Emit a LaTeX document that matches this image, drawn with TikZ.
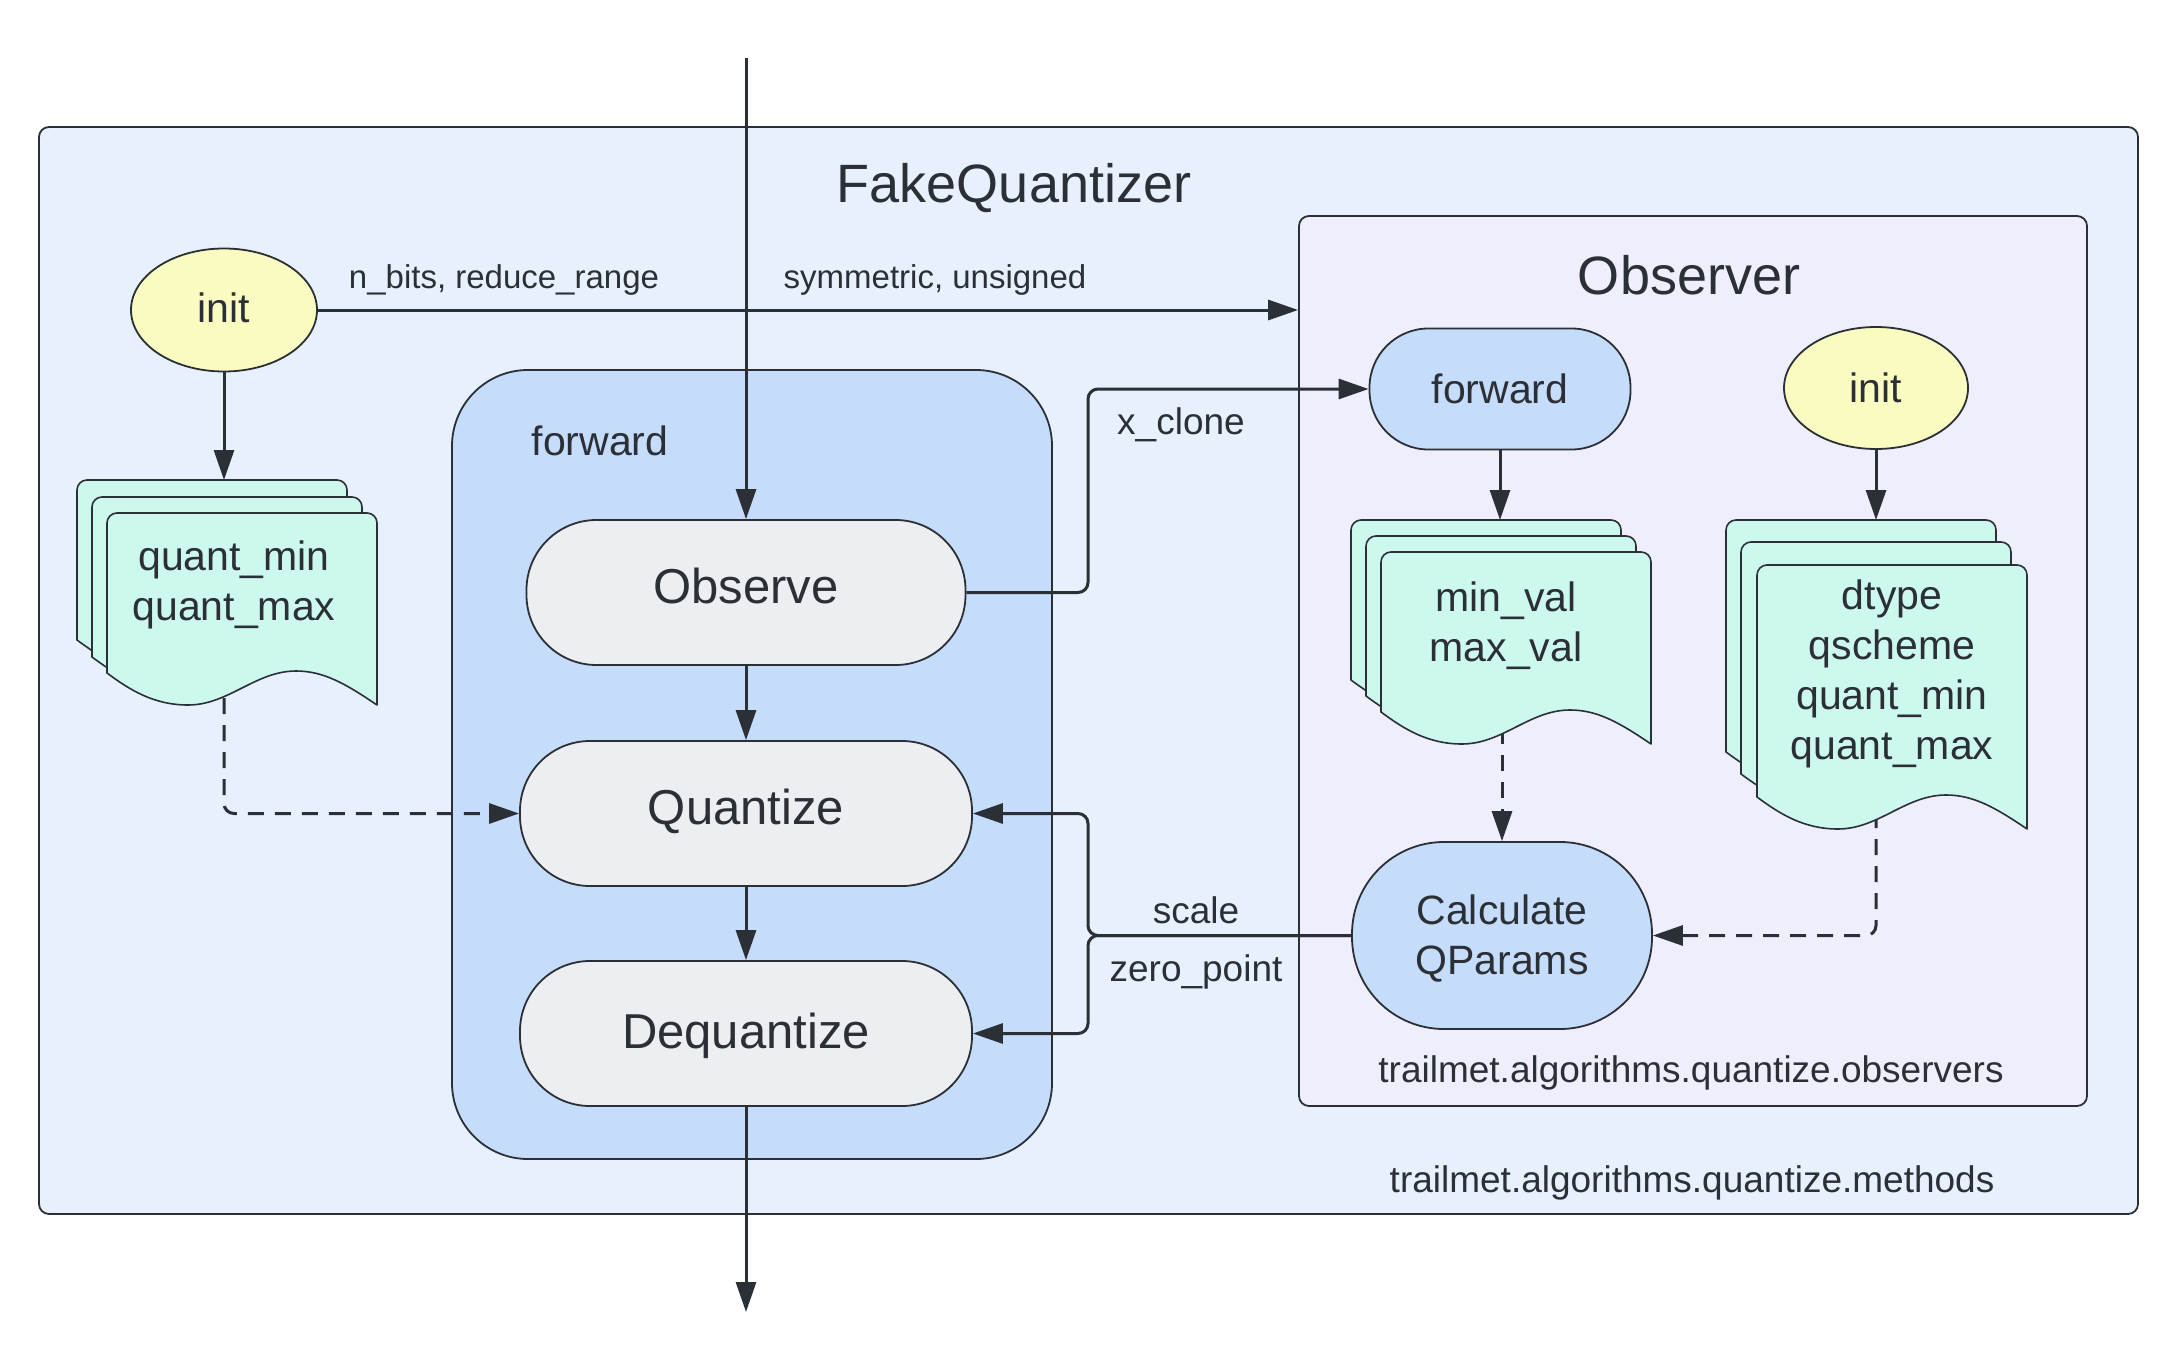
\documentclass[tikz,border=0pt]{standalone}
\usepackage{fontspec}
\setmainfont{Liberation Sans}
\usetikzlibrary{arrows.meta,shapes.geometric}
\definecolor{ink}{HTML}{2B2F36}
\definecolor{outerfill}{HTML}{E7F1FE}
\definecolor{groupfill}{HTML}{C6DCFB}
\definecolor{stepfill}{HTML}{EDEEF1}
\definecolor{docfill}{HTML}{CDF8EE}
\definecolor{yel}{HTML}{F9FBC0}
\definecolor{lav}{HTML}{EFEEFD}
\newcommand\docpage[4]{%
 \filldraw[fill=docfill, draw=ink, line width=1.6pt, line join=round]
 ({#1},{#2+#4-32}) [rounded corners=10pt] -- ({#1},{#2}) -- ({#1+#3},{#2}) [sharp corners] -- ({#1+#3},{#2+#4})
 .. controls ({#1+0.88*#3},{#2+#4-22}) and ({#1+0.8*#3},{#2+#4-34}) .. ({#1+0.7*#3},{#2+#4-34})
 .. controls ({#1+0.55*#3},{#2+#4-34}) and ({#1+0.45*#3},{#2+#4}) .. ({#1+0.3*#3},{#2+#4})
 .. controls ({#1+0.17*#3},{#2+#4}) and ({#1+0.08*#3},{#2+#4-16}) .. cycle;}
\tikzset{
 box/.style={draw=ink, line width=1.8pt, inner sep=0pt, text=ink},
 lbl/.style={text=ink, inner sep=0pt},
 fA/.style={font=\fontsize{54}{62}\selectfont},
 fB/.style={font=\fontsize{49}{57}\selectfont},
 fC/.style={font=\fontsize{41}{50}\selectfont},
 fD/.style={font=\fontsize{37}{44}\selectfont},
 fE/.style={font=\fontsize{33}{40}\selectfont},
 conn/.style={draw=ink, line width=3pt, -{Triangle[length=30pt,width=20pt]}},
 dconn/.style={conn, dash pattern=on 16pt off 11pt, rounded corners=10pt},
 stepnode/.style={box, fill=stepfill, rounded corners=70pt, minimum height=145pt, fB, text height=35pt, text depth=14pt},
}
\begin{document}
\begin{tikzpicture}[x=1pt,y=-1pt]
\useasboundingbox (0,0) rectangle (2181,1356);
% containers
\node[box, fill=outerfill, rounded corners=10pt, minimum width=2099pt, minimum height=1087pt] (outer) at (1088.5,670.5) {};
\node[lbl, fA] (fqtitle) at (1014,188) {FakeQuantizer};
\node[lbl, fD] (methods) at (1692,1183) {trailmet.algorithms.quantize.methods};
\node[box, fill=groupfill, rounded corners=76pt, minimum width=600pt, minimum height=789pt] (fgroup) at (752,764.5) {};
\node[lbl, fC] (fwdlbl) at (600,441) {forward};
\node[box, fill=lav, rounded corners=10pt, minimum width=788pt, minimum height=890pt] (obsbox) at (1693,661) {};
\node[lbl, fA] (obstitle) at (1689,275) {Observer};
\node[lbl, fD] (observers) at (1691,1073) {trailmet.algorithms.quantize.observers};
% nodes
\node[box, fill=yel, ellipse, minimum width=186pt, minimum height=123pt, fC, text height=30pt, text depth=4pt] (init1) at (224,310) {init};
\node[box, fill=yel, ellipse, minimum width=184pt, minimum height=122pt, fC] (init2) at (1876,388) {init};
\node[stepnode, minimum width=439pt] (obs) at (746,592.5) {Observe};
\node[stepnode, minimum width=452pt] (quant) at (746,813.5) {Quantize};
\node[stepnode, minimum width=452pt, text height=36pt, text depth=7pt] (deq) at (746,1033.5) {Dequantize};
\node[box, fill=groupfill, rounded corners=59pt, minimum width=261pt, minimum height=121pt, fC] (fwd2) at (1500,389) {forward};
\node[box, fill=groupfill, rounded corners=92pt, minimum width=300pt, minimum height=187pt, fC] (calc) at (1502,935.5) {\raisebox{-4pt}[\height][\depth]{\begin{tabular}{@{}c@{}}Calculate\\QParams\end{tabular}}};
% coordinates
\coordinate (top) at (746,58);
\coordinate (bot) at (746,1312);
\coordinate (jx) at (1088,0);
\coordinate (ldocT) at (224,480);
\coordinate (ldocB) at (224,698);
\coordinate (mdocT) at (1500,520);
\coordinate (mdocB) at (1502,728);
\coordinate (ddocT) at (1876,520);
\coordinate (ddocB) at (1876,812);
% connectors
\draw[conn] (init1.east) -- (init1.east -| obsbox.west);
\node[lbl, fE] (l1) at (504,280) {n\_bits, reduce\_range};
\node[lbl, fE] (l2) at (935,280) {symmetric, unsigned};
\draw[conn] (top) -- (obs.north);
\draw[conn] (obs.south) -- (quant.north);
\draw[conn] (quant.south) -- (deq.north);
\draw[conn] (deq.south) -- (bot);
\draw[conn] (init1.south) -- (ldocT);
\draw[conn] (fwd2.south) -- (mdocT);
\draw[conn] (init2.south) -- (ddocT);
\draw[conn, rounded corners=10pt] (obs.east) -- (obs.east -| jx) -- (jx |- fwd2.west) -- (fwd2.west);
\node[lbl, fD] (xclone) at (1181,425) {x\_clone};
\draw[conn, rounded corners=10pt] (calc.west) -- (calc.west -| jx) -- (jx |- quant.east) -- (quant.east);
\draw[conn, rounded corners=10pt] (calc.west) -- (calc.west -| jx) -- (jx |- deq.east) -- (deq.east);
\node[lbl, fD] (scale) at (1196,910) {scale};
\node[lbl, fD] (zp) at (1196,972) {zero\_point};
\draw[dconn] (ldocB) |- (quant.west);
\draw[dconn] (mdocB) -- (calc.north);
\draw[dconn] (ddocB) |- (calc.east);
% documents
\docpage{77}{480}{270}{192}
\docpage{92}{497}{270}{192}
\docpage{107}{513}{270}{192}
\node[lbl, fC, align=center] (ldoc) at (234,585) {quant\_min\\quant\_max};
\docpage{1351}{520}{270}{192}
\docpage{1366}{536}{270}{192}
\docpage{1381}{552}{270}{192}
\node[lbl, fC, align=center] (mdoc) at (1506,626) {min\_val\\max\_val};
\docpage{1726}{520}{270}{264}
\docpage{1741}{542}{270}{264}
\docpage{1757}{565}{270}{264}
\node[lbl, fC, align=center] (ddoc) at (1892,674) {dtype\\qscheme\\quant\_min\\quant\_max};
\end{tikzpicture}
\end{document}
